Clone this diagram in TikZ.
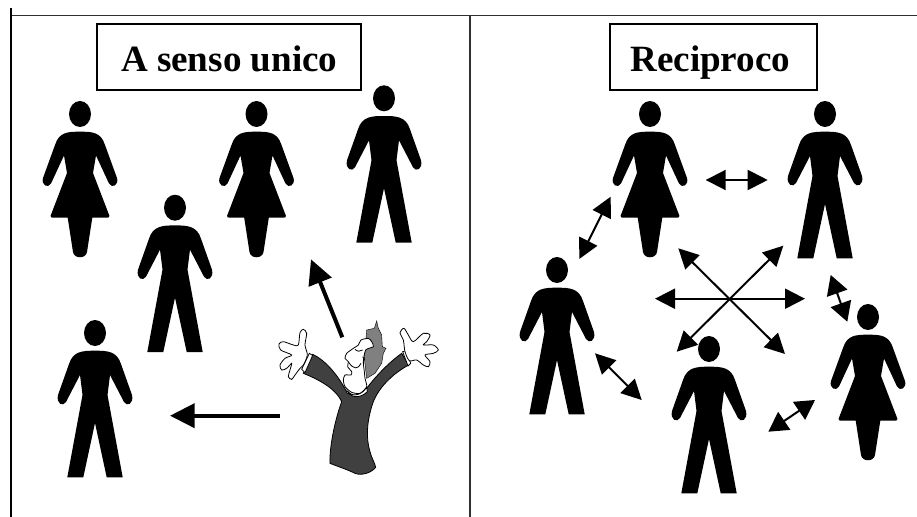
\documentclass[tikz,border=0pt]{standalone}
\usepackage{fontspec}
\setmainfont{Liberation Serif}
\usetikzlibrary{arrows.meta}
\definecolor{coatgray}{HTML}{404040}
\definecolor{hairgray}{HTML}{808080}
\definecolor{rulegray}{HTML}{303030}
\tikzset{
  titlebox/.style={draw=black,line width=1.5pt,fill=white,inner sep=0pt,font=\bfseries\fontsize{27.8}{30}\selectfont,minimum height=49.5pt,text height=28.5pt,text depth=6pt},
  frameline/.style={draw=rulegray,line width=1.1pt},
  bigarrow/.style={line width=3pt,-{Triangle[length=18.5pt,width=18pt]}},
  twoway/.style={line width=1.5pt,{Triangle[length=15pt,width=15pt]}-{Triangle[length=15pt,width=15pt]}},
  smallway/.style={line width=1.5pt,{Triangle[length=14.5pt,width=16pt]}-{Triangle[length=14.5pt,width=16pt]}},
  ink/.style={draw=black,line width=0.6pt},
  womanfig/.pic={
    \fill[black] (0,0) ellipse [x radius=11,y radius=13];
    \fill[black] (0,17.7) .. controls (12,17.7) and (21,18) .. (25,31) -- (37,64) .. controls (39,71) and (32,75) .. (29,69.5) -- (16,41.5) -- (13,59) -- (29.3,101.5) .. controls (30,103) and (29,103.7) .. (27,103.7) -- (12.3,103.7) -- (7,138) .. controls (6,145) and (-6,145) .. (-7,138) -- (-12.3,103.7) -- (-27,103.7) .. controls (-29,103.7) and (-30,103) .. (-29.3,101.5) -- (-13,59) -- (-16,41.5) -- (-29,69.5) .. controls (-32,75) and (-39,71) .. (-37,64) -- (-25,31) .. controls (-21,18) and (-12,17.7) .. (0,17.7) -- cycle;
  },
  manfig/.pic={
    \fill[black] (0,0) ellipse [x radius=11,y radius=13];
    \fill[black] (0,17.7) .. controls (12,17.7) and (22,18) .. (26,31) -- (37,62) .. controls (39,71) and (32,74) .. (29,69) -- (15,42) -- (12.5,62) -- (27.7,144.3) -- (11.7,144.3) -- (0,90) -- (-11.7,144.3) -- (-27.7,144.3) -- (-12.5,62) -- (-15,42) -- (-29,69) .. controls (-32,74) and (-39,71) .. (-37,62) -- (-26,31) .. controls (-22,18) and (-12,17.7) .. (0,17.7) -- cycle;
  }
}
\begin{document}
\begin{tikzpicture}[x=0.75pt,y=-0.75pt]
\useasboundingbox (0,0) rectangle (917,517);
% frame
\coordinate (frameTL) at (11,8);
\coordinate (frameBL) at (11,517);
\coordinate (topL) at (11,15.7);
\coordinate (topR) at (917,15.7);
\coordinate (midT) at (470,15.7);
\coordinate (midB) at (470,517);
\draw[frameline] (topL) -- (topR);
\draw[frameline] (midT) -- (midB);
\draw[black,line width=1.5pt] (frameTL) -- (frameBL);
% titles
\node[titlebox,minimum width=198pt] (leftTitle) at (229.2,56.7) {A senso unico};
\node[titlebox,minimum width=155pt] (rightTitle) at (713.3,56.7) {\kern-4.5pt Reciproco};
% left figures
\pic at (80,114) {womanfig};
\pic at (256.5,114) {womanfig};
\pic at (384,98.3) {manfig};
\pic at (175,207.7) {manfig};
\pic at (95,333) {manfig};
% right figures
\pic at (650,114) {womanfig};
\pic at (825,114) {manfig};
\pic at (557,270) {manfig};
\pic at (709,349) {manfig};
\pic at (868,317) {womanfig};
% one-way arrows
\coordinate (hS) at (280,415.7);
\coordinate (hE) at (170,415.7);
\coordinate (uS) at (342.3,337.3);
\coordinate (uE) at (311,259.3);
\draw[bigarrow] (hS) -- (hE);
\draw[bigarrow] (uS) -- (uE);
% two-way arrows
\coordinate (c1a) at (655,298.7); \coordinate (c1b) at (805,298.7);
\coordinate (c2a) at (678.3,248.3); \coordinate (c2b) at (785,354);
\coordinate (c3a) at (783.3,245.7); \coordinate (c3b) at (676.7,351.7);
\coordinate (t1a) at (705.7,180); \coordinate (t1b) at (767.7,180);
\coordinate (l1a) at (610.7,196.7); \coordinate (l1b) at (579.3,259);
\coordinate (l2a) at (595,353.3); \coordinate (l2b) at (641.7,400);
\coordinate (b1a) at (768.3,431.7); \coordinate (b1b) at (815,400);
\coordinate (r1a) at (830.7,275); \coordinate (r1b) at (847.3,321.7);
\draw[twoway] (c1a) -- (c1b);
\draw[twoway] (c2a) -- (c2b);
\draw[twoway] (c3a) -- (c3b);
\draw[twoway] (t1a) -- (t1b);
\draw[twoway] (l1a) -- (l1b);
\draw[twoway] (l2a) -- (l2b);
\draw[smallway] (b1a) -- (b1b);
\draw[smallway] (r1a) -- (r1b);
% cartoon figure, in thirds of a pixel
\begin{scope}[shift={(260,310)},x=0.25pt,y=-0.25pt]
  % hair
  \filldraw[draw=black,fill=hairgray,line width=0.3pt] (320,60) -- (343,55) -- (350,33) -- (355,55) -- (365,75) -- (367,110) -- (378,115) -- (370,130) -- (365,160) -- (345,190) -- (320,205) -- (313,145) -- cycle;
  % coat
  \filldraw[ink,fill=coatgray] (158,133) .. controls (195,150) and (235,195) .. (262,250)
    -- (285,258) -- (320,235)
    .. controls (350,195) and (390,155) .. (425,130)
    -- (446,165)
    .. controls (400,190) and (350,235) .. (335,290)
    .. controls (320,340) and (318,385) .. (330,425)
    .. controls (335,445) and (345,460) .. (347,472)
    .. controls (335,488) and (305,498) .. (285,490)
    .. controls (265,480) and (235,470) .. (210,460)
    .. controls (208,410) and (225,330) .. (245,275)
    .. controls (230,240) and (185,212) .. (130,190)
    -- cycle;
  % collar
  \filldraw[ink,fill=white] (262,243) .. controls (272,258) and (300,262) .. (320,232) -- (322,245) .. controls (305,262) and (280,265) .. (268,252) -- cycle;
  % cuffs
  \filldraw[ink,fill=white] (148,130) -- (158,136) -- (135,188) -- (125,178) -- cycle;
  \filldraw[ink,fill=white] (428,125) -- (438,122) -- (452,160) -- (444,168) -- cycle;
  % hands
  \filldraw[ink,fill=white] plot[smooth cycle,tension=0.5] coordinates {(142,135) (135,105) (140,70) (130,58) (120,68) (115,105) (100,105) (70,95) (57,102) (62,120) (95,135) (75,145) (60,165) (65,180) (80,175) (95,160) (90,180) (85,200) (95,208) (105,195) (120,175) (130,165)};
  \filldraw[ink,fill=white] plot[smooth cycle,tension=0.5] coordinates {(435,125) (430,90) (420,68) (432,55) (445,75) (460,95) (490,70) (510,75) (500,95) (490,105) (520,105) (535,120) (520,130) (495,135) (510,155) (505,170) (490,165) (470,150) (448,152)};
  % face
  \filldraw[ink,fill=white] plot[smooth cycle,tension=0.4] coordinates {(325,85) (303,90) (295,105) (280,115) (260,130) (255,145) (265,155) (263,170) (275,185) (273,195) (255,195) (250,210) (255,230) (275,247) (300,250) (320,230) (315,205) (313,185) (310,155) (317,120) (340,110) (335,95)};
  \draw[ink] (265,155) .. controls (280,180) and (295,178) .. (303,160);
  \draw[ink] (285,118) .. controls (292,125) and (300,125) .. (308,120);
  \draw[ink] (308,140) -- (314,150);
\end{scope}
\end{tikzpicture}
\end{document}
